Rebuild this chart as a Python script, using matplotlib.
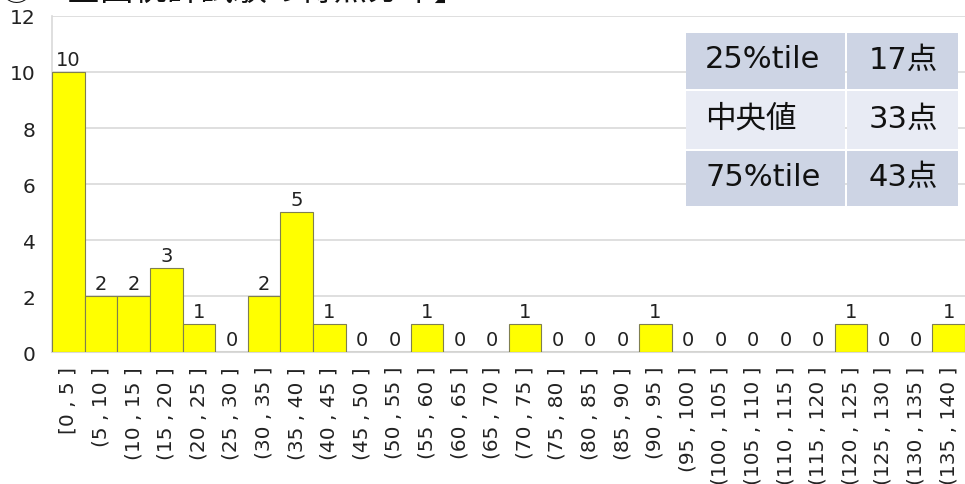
import matplotlib
matplotlib.use("Agg")
import matplotlib.pyplot as plt
from matplotlib.patches import Rectangle

plt.rcParams['font.family'] = ['DejaVu Sans', 'Noto Sans CJK JP']

bins = ["[0 , 5 ]", "(5 , 10 ]", "(10 , 15 ]", "(15 , 20 ]", "(20 , 25 ]", "(25 , 30 ]",
        "(30 , 35 ]", "(35 , 40 ]", "(40 , 45 ]", "(45 , 50 ]", "(50 , 55 ]", "(55 , 60 ]",
        "(60 , 65 ]", "(65 , 70 ]", "(70 , 75 ]", "(75 , 80 ]", "(80 , 85 ]", "(85 , 90 ]",
        "(90 , 95 ]", "(95 , 100 ]", "(100 , 105 ]", "(105 , 110 ]", "(110 , 115 ]",
        "(115 , 120 ]", "(120 , 125 ]", "(125 , 130 ]", "(130 , 135 ]", "(135 , 140 ]"]
counts = [10, 2, 2, 3, 1, 0, 2, 5, 1, 0, 0, 1, 0, 0, 1, 0, 0, 0, 1, 0, 0, 0, 0, 0, 1, 0, 0, 1]

stat_names = ["25%tile", "中央値", "75%tile"]
stat_values = ["17点", "33点", "43点"]

fig = plt.figure(figsize=(9.65, 4.85), dpi=100)
ax = fig.add_axes([0.054, 0.272, 0.946, 0.693])

x = list(range(len(bins)))
ax.bar(x, counts, width=1.0, color="#FFFF00", edgecolor="#7F7F50", linewidth=0.8, zorder=3)
for xi, c in zip(x, counts):
    ax.text(xi, c + 0.1, str(c), ha="center", va="bottom", fontsize=14, color="#222222", zorder=4)

ax.set_xlim(-0.5, len(bins) - 0.5)
ax.set_ylim(0, 12)
ax.set_yticks(range(0, 13, 2))
ax.set_xticks(x)
ax.set_xticklabels(bins, rotation=90, fontsize=14.5, color="#222222")
ax.tick_params(axis="y", labelsize=14.5, length=0, pad=12, colors="#222222")
ax.tick_params(axis="x", length=0, pad=10)
ax.grid(axis="y", color="#D9D9D9", linewidth=1.2, zorder=0)
for s in ["top", "right"]:
    ax.spines[s].set_visible(False)
ax.spines["left"].set_color("#D9D9D9")
ax.spines["left"].set_linewidth(1.2)
ax.spines["bottom"].set_color("#D9D9D9")
ax.spines["bottom"].set_linewidth(1.5)

# statistics table in the upper right
W, H = 965.0, 485.0
col_x = [686, 847, 960]
row_y = [32, 90, 150, 207]
row_colors = ["#CDD4E4", "#E8EBF4", "#CDD4E4"]
for r in range(3):
    for c in range(2):
        x0, x1 = col_x[c], col_x[c + 1]
        y0, y1 = row_y[r], row_y[r + 1]
        fig.patches.append(Rectangle((x0 / W, 1 - y1 / H), (x1 - x0 - 2) / W, (y1 - y0 - 2) / H,
                                     transform=fig.transFigure, facecolor=row_colors[r],
                                     edgecolor="none", zorder=5))
    yc = 1 - ((row_y[r] + row_y[r + 1] - 2) / 2) / H
    fig.text(705 / W, yc, stat_names[r], ha="left", va="center", fontsize=22, color="#111111", zorder=6)
    fig.text(903 / W, yc, stat_values[r], ha="center", va="center", fontsize=22, color="#111111", zorder=6)

# chart heading, sitting just above the top edge
fig.text(0.0, 1.0, "②　全国統計試験の得点分布】", ha="left", va="baseline", fontsize=24,
         color="#111111", family=["Noto Sans CJK JP", "DejaVu Sans"])

fig.savefig("out.png", dpi=100)
